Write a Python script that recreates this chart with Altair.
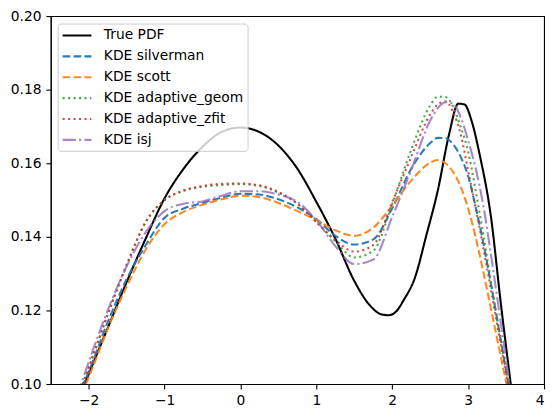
import altair as alt
import pandas as pd

series_names = ["True PDF", "KDE silverman", "KDE scott", "KDE adaptive_geom",
                "KDE adaptive_zfit", "KDE isj"]
series_colors = ["#000000", "#1f77b4", "#ff7f0e", "#2ca02c", "#d62728", "#9467bd"]
series_dashes = [[1, 0], [7.7, 3.3], [7.7, 3.3], [2.1, 3.4], [2.1, 3.4], [13.3, 3.3, 2.1, 3.3]]
series_opacity = [1.0, 0.8, 0.8, 0.8, 0.8, 0.8]

x_true = [-2.1, -2.0, -1.75, -1.5, -1.25, -1.0, -0.75, -0.5, -0.25, 0.0, 0.25, 0.5,
          0.75, 1.0, 1.25, 1.5, 1.7, 1.85, 1.95, 2.05, 2.15, 2.3, 2.45, 2.6, 2.75,
          2.87, 2.95, 3.05, 3.15, 3.3, 3.43, 3.57]
y_true = [0.0977, 0.1027, 0.1152, 0.1277, 0.1395, 0.1505, 0.1585, 0.1645, 0.1685,
          0.1697, 0.1685, 0.1648, 0.1585, 0.1495, 0.1395, 0.1280, 0.1215, 0.1190,
          0.1187, 0.1197, 0.1228, 0.1290, 0.1405, 0.1526, 0.1680, 0.1762, 0.1760,
          0.1712, 0.1625, 0.1455, 0.1220, 0.0985]

x_kde = [-2.15, -2.0, -1.75, -1.5, -1.25, -1.0, -0.75, -0.5, -0.25, 0.0, 0.25, 0.5,
         0.75, 1.0, 1.25, 1.5, 1.75, 2.0, 2.25, 2.5, 2.6, 2.7, 2.8, 2.9, 3.0, 3.1,
         3.2, 3.3, 3.4, 3.5, 3.6]
y_silverman = [0.0965, 0.1033, 0.1168, 0.1285, 0.1377, 0.1452, 0.1477, 0.1492, 0.1507,
               0.1517, 0.1515, 0.1502, 0.1480, 0.1448, 0.1403, 0.1379, 0.1393, 0.1478,
               0.1585, 0.1655, 0.1669, 0.1668, 0.1652, 0.1618, 0.1565, 0.1480, 0.1383,
               0.1272, 0.1155, 0.1035, 0.0915]
y_scott = [0.0945, 0.1018, 0.1150, 0.1265, 0.1365, 0.1435, 0.1468, 0.1487, 0.1502,
           0.1512, 0.1508, 0.1492, 0.1470, 0.1446, 0.1418, 0.1403, 0.1425, 0.1485,
           0.1553, 0.1602, 0.1609, 0.1600, 0.1577, 0.1537, 0.1477, 0.1398, 0.1305,
           0.1205, 0.1105, 0.1005, 0.0905]
y_geom = [0.0958, 0.1045, 0.1190, 0.1325, 0.1440, 0.1500, 0.1525, 0.1536, 0.1541,
          0.1543, 0.1538, 0.1520, 0.1490, 0.1441, 0.1388, 0.1344, 0.1362, 0.1490,
          0.1637, 0.1757, 0.1781, 0.1780, 0.1755, 0.1700, 0.1632, 0.1525, 0.1405,
          0.1280, 0.1155, 0.1040, 0.0925]
y_zfit = [0.0958, 0.1043, 0.1188, 0.1322, 0.1440, 0.1500, 0.1526, 0.1538, 0.1544,
          0.1545, 0.1540, 0.1522, 0.1490, 0.1440, 0.1392, 0.1360, 0.1378, 0.1495,
          0.1617, 0.1733, 0.1760, 0.1768, 0.1740, 0.1680, 0.1580, 0.1478, 0.1370,
          0.1258, 0.1142, 0.1027, 0.0910]
y_isj = [0.0968, 0.1060, 0.1200, 0.1320, 0.1412, 0.1470, 0.1490, 0.1496, 0.1512,
         0.1524, 0.1524, 0.1515, 0.1495, 0.1445, 0.1375, 0.1326, 0.1338, 0.1455,
         0.1582, 0.1716, 0.1750, 0.1766, 0.1762, 0.1726, 0.1662, 0.1585, 0.1485,
         0.1352, 0.1210, 0.1065, 0.0935]

x_ticks = [-2, -1, 0, 1, 2, 3, 4]
y_ticks = [0.10, 0.12, 0.14, 0.16, 0.18, 0.20]

rows = []
for i, (x, y) in enumerate(zip(x_true, y_true)):
    rows.append({"series": series_names[0], "x": x, "y": y, "order": i})
for name, ys in zip(series_names[1:], [y_silverman, y_scott, y_geom, y_zfit, y_isj]):
    for i, (x, y) in enumerate(zip(x_kde, ys)):
        rows.append({"series": name, "x": x, "y": y, "order": i})
df = pd.DataFrame(rows)

chart = alt.Chart(df).mark_line(clip=True, strokeWidth=2.08, interpolate="monotone").encode(
    x=alt.X("x:Q", scale=alt.Scale(domain=[-2.5, 4], nice=False, zero=False),
            axis=alt.Axis(values=x_ticks, format="d", title=None)),
    y=alt.Y("y:Q", scale=alt.Scale(domain=[0.10, 0.20], nice=False, zero=False),
            axis=alt.Axis(values=y_ticks, format=".2f", title=None)),
    color=alt.Color("series:N", title=None,
                    scale=alt.Scale(domain=series_names, range=series_colors),
                    sort=series_names),
    strokeDash=alt.StrokeDash("series:N", title=None,
                              scale=alt.Scale(domain=series_names, range=series_dashes),
                              sort=series_names),
    opacity=alt.Opacity("series:N", title=None,
                        scale=alt.Scale(domain=series_names, range=series_opacity),
                        sort=series_names),
    order="order:Q",
).properties(
    width=496, height=370,
    autosize=alt.AutoSizeParams(type="none"),
    padding={"left": 43, "top": 7, "right": 8, "bottom": 30},
).configure_view(
    stroke="black", strokeWidth=1.1
).configure_axis(
    labelFont="DejaVu Sans", labelFontSize=13.9, labelColor="black",
    tickColor="black", domainColor="black", tickSize=4.9, tickWidth=1.1,
    domainWidth=1.1, labelPadding=4.9, grid=False
).configure_legend(
    orient="none", legendX=6.9, legendY=7.5, padding=3.5,
    fillColor="rgba(255,255,255,0.8)", strokeColor="#cccccc", cornerRadius=3,
    symbolType="M-1,0H3.14", symbolSize=196, symbolStrokeWidth=2.08,
    labelFont="DejaVu Sans", labelFontSize=13.9, labelColor="black",
    labelOffset=26, rowPadding=5, labelLimit=300
)

chart.save("out.html", embed_options={"renderer": "svg", "actions": False})
